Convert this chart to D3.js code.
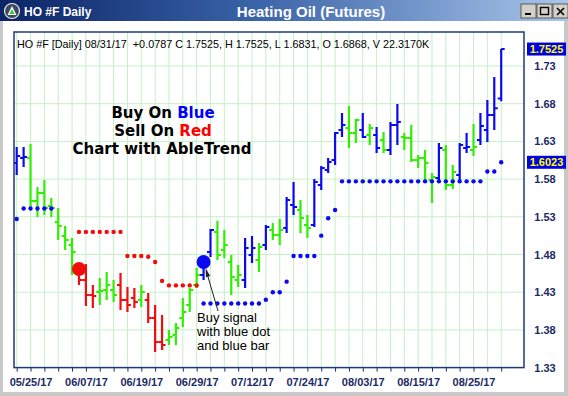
<!DOCTYPE html>
<html>
<head>
<meta charset="utf-8">
<script src="https://d3js.org/d3.v7.min.js"></script>
<style>
  body { margin: 0; background: #fff; overflow: hidden; }
  svg { display: block; font-family: "Liberation Sans", Arial, sans-serif; }
</style>
</head>
<body>
<svg id="chart" width="568" height="396"></svg>
<script>
// ---- data ----
const dates = [
  "05/23/17","05/24/17","05/25/17","05/26/17","05/30/17","05/31/17",
  "06/01/17","06/02/17","06/05/17","06/06/17","06/07/17","06/08/17","06/09/17","06/12/17","06/13/17","06/14/17","06/15/17","06/16/17",
  "06/19/17","06/20/17","06/21/17","06/22/17","06/23/17","06/26/17","06/27/17","06/28/17","06/29/17","06/30/17",
  "07/03/17","07/05/17","07/06/17","07/07/17","07/10/17","07/11/17","07/12/17","07/13/17","07/14/17","07/17/17","07/18/17","07/19/17",
  "07/20/17","07/21/17","07/24/17","07/25/17","07/26/17","07/27/17","07/28/17","07/31/17",
  "08/01/17","08/02/17","08/03/17","08/04/17","08/07/17","08/08/17","08/09/17","08/10/17","08/11/17","08/14/17","08/15/17","08/16/17",
  "08/17/17","08/18/17","08/21/17","08/22/17","08/23/17","08/24/17","08/25/17","08/28/17","08/29/17","08/30/17","08/31/17"
]
const labelDates = ["05/25/17","06/07/17","06/19/17","06/29/17","07/12/17","07/24/17","08/03/17","08/15/17","08/25/17"]

const highs = [
  1.6225,1.6225,1.6265,1.5695,1.5788,1.5549,1.5416,1.5178,1.5018,1.4660,
  1.4674,1.4395,1.4488,1.4567,1.4461,1.4554,1.4369,1.4355,1.4395,1.4289,
  1.4130,1.3997,1.3798,1.3891,1.4223,1.4355,1.4621,1.4687,1.5138,1.5244,
  1.5125,1.4793,1.4660,1.5018,1.5045,1.4952,1.5191,1.5217,1.5270,1.5562,
  1.5761,1.5522,1.5324,1.5801,1.5973,1.6079,1.6424,1.6676,1.6769,1.6597,
  1.6676,1.6530,1.6491,1.6424,1.6557,1.6796,1.6411,1.6517,1.6119,1.6186,
  1.5881,1.6278,1.6252,1.5987,1.6278,1.6411,1.6530,1.6676,1.6849,1.7154,
  1.7525
]
const lows = [
  1.5854,1.5960,1.5430,1.5297,1.5324,1.5297,1.4992,1.4859,1.4528,1.4395,
  1.4117,1.4090,1.4130,1.4196,1.4170,1.4063,1.4037,1.4090,1.4103,1.3891,
  1.3506,1.3533,1.3599,1.3599,1.3838,1.4037,1.4355,1.4461,1.4766,1.4727,
  1.4753,1.4262,1.4369,1.4355,1.4687,1.4567,1.4859,1.4992,1.4926,1.5085,
  1.5324,1.5085,1.5018,1.5164,1.5655,1.5881,1.5987,1.6358,1.6212,1.6278,
  1.6345,1.6252,1.6146,1.6146,1.6119,1.6252,1.6186,1.6026,1.5947,1.5788,
  1.5483,1.5761,1.5655,1.5668,1.5788,1.6146,1.6106,1.6252,1.6292,1.6451,
  1.6831
]
const opens = [
  1.6013,1.6079,1.6079,1.5509,1.5615,1.5443,1.5231,1.5045,1.4926,1.4594,
  1.4461,1.4262,1.4302,1.4329,1.4329,1.4395,1.4196,1.4223,1.4196,1.4196,
  1.3957,1.3639,1.3666,1.3732,1.3957,1.4130,1.4395,1.4528,1.4833,1.5098,
  1.4859,1.4700,1.4461,1.4461,1.4793,1.4727,1.4926,1.5125,1.5058,1.5151,
  1.5456,1.5390,1.5191,1.5191,1.5721,1.5920,1.6053,1.6451,1.6477,1.6411,
  1.6451,1.6385,1.6385,1.6318,1.6186,1.6517,1.6358,1.6345,1.6053,1.6079,
  1.5788,1.5814,1.6186,1.5721,1.5854,1.6212,1.6186,1.6318,1.6451,1.6650,
  1.6868
]
const closes = [
  1.6106,1.6093,1.5509,1.5615,1.5416,1.5416,1.5178,1.4992,1.4833,1.4461,
  1.4262,1.4249,1.4315,1.4395,1.4262,1.4196,1.4130,1.4170,1.4302,1.3957,
  1.3639,1.3599,1.3705,1.3825,1.4037,1.4329,1.4528,1.4660,1.5125,1.4793,
  1.4926,1.4501,1.4528,1.4886,1.4886,1.4899,1.5164,1.5058,1.5125,1.5522,
  1.5430,1.5284,1.5151,1.5761,1.5947,1.6026,1.6411,1.6517,1.6411,1.6583,
  1.6358,1.6477,1.6212,1.6186,1.6517,1.6557,1.6345,1.6053,1.6079,1.6013,
  1.5827,1.6212,1.5721,1.5894,1.6252,1.6225,1.6225,1.6504,1.6650,1.6738,
  1.7525
]
// bar colour per day: B = up trend, R = down trend, G = neutral
const trend = ("BB" + "GGGGGGG" + "RRR" + "GGG" + "RRR" + "G" + "RRR" + "GGGGG" + "BB" + "GGGG" + "BB" + "G" + "B" +
  "GG" + "BB" + "GG" + "BBBBB" + "GG" + "B" + "G" + "B" + "G" + "BB" + "GGGGG" + "B" + "GG" + "BB" + "G" + "BBBB").split("")

// AbleTrend stop dots
const stops = [
  1.527,1.541,1.541,1.541,1.541,1.541,null,null,null,
  1.510,1.510,1.510,1.510,1.510,1.510,1.510,1.478,1.478,1.478,1.477,1.470,1.445,1.439,1.439,1.439,1.439,1.439,
  1.415,1.415,1.415,1.415,1.415,1.415,1.415,1.415,1.415,1.420,1.430,1.430,1.444,1.478,1.478,1.478,1.478,1.505,1.528,1.539,
  1.577,1.577,1.577,1.577,1.577,1.577,1.577,1.577,1.577,1.577,1.577,1.577,1.577,1.577,1.577,1.577,1.577,1.577,1.577,1.577,1.577,
  1.590,1.590,1.6023
]
const stopSide = ("BBBBBB" + "---" + "RRRRRRRRRRRRRRRRRR" + "BBBBBBBBBBBBBBBBBBBBBBBBBBBBBBBBBBBBBBBBBBBB").split("")

const signals = [
  {date: "06/06/17", price: 1.4607, side: "R"},
  {date: "06/30/17", price: 1.4700, side: "B"}
]
const priceTicks = [1.33, 1.38, 1.43, 1.48, 1.53, 1.58, 1.63, 1.68, 1.73]
const valueBoxes = [1.7525, 1.6023]

const colors = {B: "#0a0af0", G: "#2ef000", R: "#f20c0c"}
const navy = "#1b2a66"

// ---- layout ----
const width = 568, height = 396
const plot = {left: 14, right: 524, top: 32, bottom: 367.6}

const svg = d3.select("#chart")
const defs = svg.append("defs")

let grad = defs.append("linearGradient").attr("id", "titleGrad")
grad.append("stop").attr("offset", "0%").attr("stop-color", "#0b2466")
grad.append("stop").attr("offset", "45%").attr("stop-color", "#3a63a8")
grad.append("stop").attr("offset", "100%").attr("stop-color", "#a9c6ea")

defs.append("clipPath").attr("id", "plotClip")
   .append("rect")
   .attr("x", plot.left).attr("y", plot.top)
   .attr("width", plot.right - plot.left).attr("height", plot.bottom - plot.top)

// window chrome
svg.append("rect").attr("width", width).attr("height", height).attr("fill", "#ffffff")
svg.append("rect").attr("x", 0).attr("y", 0).attr("width", width).attr("height", 21).attr("fill", "url(#titleGrad)")
svg.append("rect").attr("x", 0).attr("y", 21).attr("width", 3).attr("height", height - 21).attr("fill", "#c8c8c8")
svg.append("rect").attr("x", 564).attr("y", 21).attr("width", 4).attr("height", height - 21).attr("fill", "#c8c8c8")
svg.append("rect").attr("x", 0).attr("y", 392).attr("width", width).attr("height", 4).attr("fill", "#c8c8c8")

// title bar icon + texts
svg.append("circle").attr("cx", 12).attr("cy", 11).attr("r", 7.5).attr("fill", "#3b4a5e").attr("stroke", "#e8e8e8").attr("stroke-width", 1.2)
svg.append("path").attr("d", "M12,6 L16.5,15 L7.5,15 Z").attr("fill", "#ffffff")
svg.append("path").attr("d", "M12,9 L14.6,14 L9.4,14 Z").attr("fill", "#3cc43c")
svg.append("text").attr("x", 24).attr("y", 15.5).text("HO #F Daily")
   .attr("fill", "#fff").attr("font-size", 12).attr("font-weight", "bold")
svg.append("text").attr("x", 311).attr("y", 16.5).attr("text-anchor", "middle").text("Heating Oil (Futures)")
   .attr("fill", "#fff").attr("font-size", 15).attr("font-weight", "bold")

// window buttons
let btns = [{x: 521, g: "min"}, {x: 537, g: "max"}, {x: 553, g: "close"}]
btns.forEach(b => {
  svg.append("rect").attr("x", b.x).attr("y", 4).attr("width", 15).attr("height", 14)
     .attr("fill", "#d4d0c8").attr("stroke", "#404040").attr("stroke-width", 0.8)
  if (b.g === "min") svg.append("rect").attr("x", b.x + 4).attr("y", 13).attr("width", 6).attr("height", 2).attr("fill", "#000")
  if (b.g === "max") svg.append("rect").attr("x", b.x + 3.5).attr("y", 7.5).attr("width", 8).attr("height", 7)
     .attr("fill", "none").attr("stroke", "#000").attr("stroke-width", 1.4)
  if (b.g === "close") svg.append("path").attr("d", `M${b.x + 4},8 L${b.x + 11},15 M${b.x + 11},8 L${b.x + 4},15`)
     .attr("stroke", "#000").attr("stroke-width", 1.6)
})

// ---- scales ----
const x = d3.scalePoint().domain(dates).range([16.7, 501.2])
const y = d3.scaleLinear().domain([1.33, 1.73]).range([plot.bottom, 66])

const evenDates = dates.filter((d, i) => i % 2 === 0)

// grid
let grid = svg.append("g").attr("clip-path", "url(#plotClip)")
grid.selectAll("line.v").data(evenDates).enter().append("line")
    .attr("x1", d => x(d)).attr("x2", d => x(d))
    .attr("y1", plot.top).attr("y2", plot.bottom)
    .attr("stroke", "#c4f0c4").attr("stroke-width", 1)
grid.selectAll("line.h").data(priceTicks.slice(1)).enter().append("line")
    .attr("x1", plot.left).attr("x2", plot.right)
    .attr("y1", d => y(d)).attr("y2", d => y(d))
    .attr("stroke", "#c4f0c4").attr("stroke-width", 1)

// header line
svg.append("text").attr("x", 17).attr("y", 48)
   .text("HO #F [Daily] 08/31/17  +0.0787 C 1.7525, H 1.7525, L 1.6831, O 1.6868, V 22.3170K")
   .attr("font-size", 10.8).attr("fill", "#000").style("white-space", "pre")

// caption
let cap = svg.append("g").attr("font-family", "'DejaVu Sans', Verdana, sans-serif")
   .attr("font-weight", "bold").attr("font-size", 15).attr("text-anchor", "middle")
let t1 = cap.append("text").attr("x", 163).attr("y", 118)
t1.append("tspan").text("Buy On ").attr("fill", "#000")
t1.append("tspan").text("Blue").attr("fill", "#0000ff")
let t2 = cap.append("text").attr("x", 163).attr("y", 136)
t2.append("tspan").text("Sell On ").attr("fill", "#000")
t2.append("tspan").text("Red").attr("fill", "#ff0000")
cap.append("text").attr("x", 162).attr("y", 154).text("Chart with AbleTrend").attr("fill", "#000")

// ---- bars ----
let bars = svg.append("g").attr("clip-path", "url(#plotClip)")
dates.forEach((d, i) => {
  let cx = x(d), c = colors[trend[i]]
  bars.append("line").attr("x1", cx).attr("x2", cx)
      .attr("y1", y(highs[i])).attr("y2", y(lows[i]))
      .attr("stroke", c).attr("stroke-width", 2.2)
  bars.append("line").attr("x1", cx - 3.5).attr("x2", cx)
      .attr("y1", y(opens[i])).attr("y2", y(opens[i]))
      .attr("stroke", c).attr("stroke-width", 2)
  bars.append("line").attr("x1", cx).attr("x2", cx + 3.5)
      .attr("y1", y(closes[i])).attr("y2", y(closes[i]))
      .attr("stroke", c).attr("stroke-width", 2)
})

// stop dots
bars.selectAll("circle.stop")
    .data(dates.map((d, i) => ({d: d, v: stops[i], s: stopSide[i]})).filter(o => o.v !== null))
    .enter().append("circle")
    .attr("cx", o => x(o.d)).attr("cy", o => y(o.v)).attr("r", 2.2)
    .attr("fill", o => colors[o.s])

// signal markers
bars.selectAll("circle.sig").data(signals).enter().append("circle")
    .attr("cx", s => x(s.date)).attr("cy", s => y(s.price)).attr("r", 7)
    .attr("fill", s => s.side === "B" ? "#0a0af0" : "#f20c0c")

// annotation
let buy = signals[1]
let ax = x(buy.date) + 2, ay = y(buy.price) + 6
let bx = 218, by = 311
svg.append("line").attr("x1", bx).attr("y1", by).attr("x2", ax + 1).attr("y2", ay + 4)
   .attr("stroke", "#222").attr("stroke-width", 1)
let ang = Math.atan2(ay - by, ax - bx)
let hl = 9, hw = 2.2
let p1 = [ax - hl * Math.cos(ang) + hw * Math.sin(ang), ay - hl * Math.sin(ang) - hw * Math.cos(ang)]
let p2 = [ax - hl * Math.cos(ang) - hw * Math.sin(ang), ay - hl * Math.sin(ang) + hw * Math.cos(ang)]
svg.append("path").attr("d", `M${ax},${ay} L${p1[0]},${p1[1]} L${p2[0]},${p2[1]} Z`).attr("fill", "#222")

let note = svg.append("g").attr("font-size", 13).attr("fill", "#000")
;["Buy signal", "with blue dot", "and blue bar"].forEach((s, k) => {
  note.append("text").attr("x", 197).attr("y", 322 + k * 14).text(s)
})

// ---- axes ----
let xAxis = d3.axisBottom(x)
    .tickValues(evenDates)
    .tickSize(4)
    .tickPadding(7)
    .tickFormat(d => labelDates.includes(d) ? d : "")
let gx = svg.append("g").attr("transform", `translate(0,${plot.bottom})`).call(xAxis)
gx.select(".domain").remove()
gx.selectAll("line").attr("stroke", navy)
gx.selectAll("text").attr("fill", navy).attr("font-size", 11).attr("font-weight", "bold")
  .attr("font-family", "'Liberation Sans', Arial, sans-serif")

let yAxis = d3.axisRight(y).tickValues(priceTicks).tickSize(0).tickFormat(d3.format(".2f"))
let gy = svg.append("g").attr("transform", `translate(${plot.right},0)`).call(yAxis)
gy.select(".domain").remove()
gy.selectAll("text").attr("x", 21).attr("text-anchor", "middle")
  .attr("fill", navy).attr("font-size", 11).attr("font-weight", "bold")
  .attr("font-family", "'Liberation Sans', Arial, sans-serif")

// frame
svg.append("rect").attr("x", plot.left).attr("y", plot.top)
   .attr("width", plot.right - plot.left).attr("height", plot.bottom - plot.top)
   .attr("fill", "none").attr("stroke", "#1c3a78").attr("stroke-width", 1.5)

// value boxes on the price axis
valueBoxes.forEach(v => {
  svg.append("rect").attr("x", 527).attr("y", y(v) - 6.5).attr("width", 39).attr("height", 13).attr("fill", "#0000e0")
  svg.append("text").attr("x", 546.5).attr("y", y(v) + 4).attr("text-anchor", "middle")
     .text(v.toFixed(4)).attr("fill", "#ffff00").attr("font-size", 11).attr("font-weight", "bold")
})
</script>
</body>
</html>
